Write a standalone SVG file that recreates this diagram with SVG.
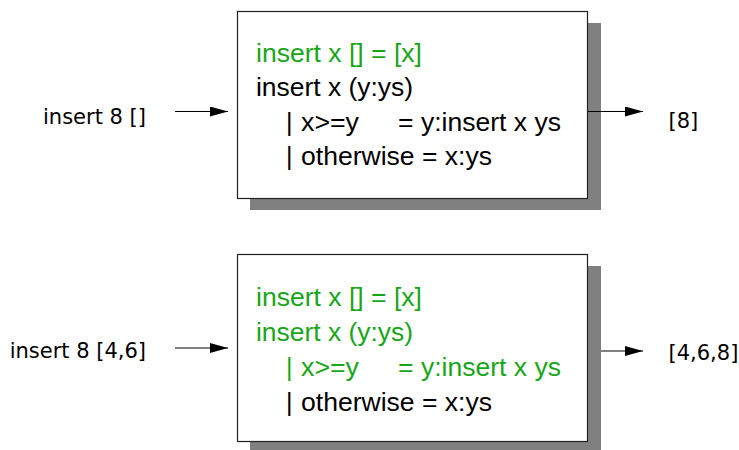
<svg xmlns="http://www.w3.org/2000/svg" width="739" height="450" viewBox="0 0 739 450">
<style>
.shadow{fill:#808080;stroke:none}
.box{fill:#ffffff;stroke:#222;stroke-width:1.2}
.code{font-family:"Liberation Sans",Arial,sans-serif;font-size:25px;fill:#000}
.g{fill:#17a617}
.lbl{font-family:"DejaVu Sans",sans-serif;font-size:21px;fill:#000}
.conn{stroke:#000;stroke-width:1;fill:none;marker-end:url(#ah)}
</style>
<defs>
<marker id="ah" markerWidth="18" markerHeight="10" refX="18" refY="5" orient="auto" markerUnits="userSpaceOnUse">
<path d="M0,0 L18,5 L0,10 Z" fill="#000"/>
</marker>
</defs>
<rect width="739" height="450" fill="#fff"/>
<g id="input1"><text class="lbl" x="43" y="124">insert 8 []</text></g>
<g id="output1"><text class="lbl" x="668.5" y="128">[8]</text></g>
<g id="input2"><text class="lbl" x="9.7" y="358">insert 8 [4,6]</text></g>
<g id="output2"><text class="lbl" x="668.5" y="360">[4,6,8]</text></g>
<g id="box1">
<rect class="shadow" x="250" y="23" width="351" height="187"/>
<rect class="box" x="237.5" y="11.5" width="350" height="187"/>
<text class="code g" x="256" y="62" textLength="166" lengthAdjust="spacingAndGlyphs">insert x [] = [x]</text>
<text class="code" x="256" y="96" textLength="157" lengthAdjust="spacingAndGlyphs">insert x (y:ys)</text>
<text class="code" x="286" y="130.5">|</text>
<text class="code" x="301" y="130.5" textLength="58" lengthAdjust="spacingAndGlyphs">x&gt;=y</text>
<text class="code" x="398" y="130.5" textLength="163" lengthAdjust="spacingAndGlyphs">= y:insert x ys</text>
<text class="code" x="286" y="165">|</text>
<text class="code" x="301" y="165" textLength="191" lengthAdjust="spacingAndGlyphs">otherwise = x:ys</text>
</g>
<g id="box2">
<rect class="shadow" x="250" y="266" width="351" height="187"/>
<rect class="box" x="237.5" y="254.5" width="350" height="187"/>
<text class="code g" x="256" y="306" textLength="166" lengthAdjust="spacingAndGlyphs">insert x [] = [x]</text>
<text class="code g" x="256" y="341" textLength="157" lengthAdjust="spacingAndGlyphs">insert x (y:ys)</text>
<text class="code g" x="286" y="376">|</text>
<text class="code g" x="301" y="376" textLength="58" lengthAdjust="spacingAndGlyphs">x&gt;=y</text>
<text class="code g" x="398" y="376" textLength="163" lengthAdjust="spacingAndGlyphs">= y:insert x ys</text>
<text class="code" x="286" y="410.5">|</text>
<text class="code" x="301" y="410.5" textLength="191" lengthAdjust="spacingAndGlyphs">otherwise = x:ys</text>
</g>
<g id="connectors">
<line class="conn" x1="175" y1="111.5" x2="228" y2="111.5"/>
<line class="conn" x1="588" y1="111.5" x2="643" y2="111.5"/>
<line class="conn" x1="175" y1="348" x2="228" y2="348"/>
<line class="conn" x1="601" y1="351" x2="643" y2="351"/>
</g>
</svg>
